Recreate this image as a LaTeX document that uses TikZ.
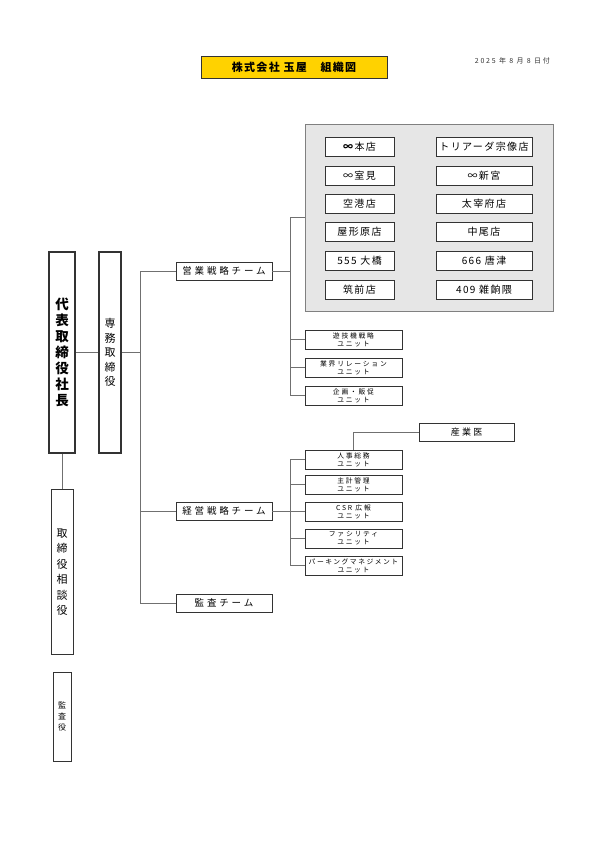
\documentclass[tikz,border=0pt]{standalone}
\usepackage{fontspec}
\setmainfont{Noto Sans CJK JP}
\usepackage{xcolor}
\usepackage{tikz}
\definecolor{titleyellow}{HTML}{FFD200}
\definecolor{panelgray}{HTML}{E6E6E6}
\definecolor{linegray}{HTML}{707070}
\definecolor{boxline}{HTML}{333333}

\tikzset{
  box/.style={draw=boxline, fill=white, rectangle, inner sep=0pt, align=center, line width=0.7pt},
  store/.style={box, minimum height=19pt, font=\fontsize{10}{11}\selectfont\addfontfeature{LetterSpace=14}},
  unit/.style={box, minimum width=97pt, minimum height=19pt, font=\fontsize{6.8}{8}\selectfont\addfontfeature{LetterSpace=26}},
  team/.style={box, minimum width=96pt, minimum height=18pt, font=\fontsize{9.5}{10}\selectfont\addfontfeature{LetterSpace=30}},
  exec/.style={box, line width=1.8pt},
  conn/.style={draw=linegray, line width=0.6pt}
}

\begin{document}
\begin{tikzpicture}[x=1pt, y=-1pt]
\useasboundingbox (0,0) rectangle (595,842);

% title
\node[box, fill=titleyellow, minimum width=186pt, minimum height=22pt, font=\fontsize{11}{12}\bfseries\addfontfeature{LetterSpace=12}] (title) at (294,67) {株式会社 玉屋　組織図};
\node[anchor=east, inner sep=0pt, font=\fontsize{7}{8}\selectfont\addfontfeature{LetterSpace=25}, text=boxline] (date) at (550,61) {2025 年 8 月 8 日付};

% officers
\node[exec, minimum width=26pt, minimum height=201pt, font=\fontsize{13.5}{16}\bfseries] (shacho) at (62,352.5) {代\\表\\取\\締\\役\\社\\長};
\node[exec, minimum width=22pt, minimum height=201pt, font=\fontsize{11}{14.5}\selectfont] (senmu) at (110,352.5) {専\\務\\取\\締\\役};
\node[box, minimum width=22pt, minimum height=165pt, font=\fontsize{11}{15.5}\selectfont] (sodan) at (62,572) {取\\締\\役\\相\\談\\役};
\node[box, minimum width=18pt, minimum height=89pt, font=\fontsize{8}{11}\selectfont] (kansayaku) at (62,716.5) {監\\査\\役};

% teams
\node[team] (eigyo) at (224,271) {営業戦略チーム};
\node[team] (keiei) at (224,511) {経営戦略チーム};
\node[team] (kansa) at (224,603) {監査チーム};

% stores
\node[draw=gray, fill=panelgray, minimum width=248pt, minimum height=187pt, inner sep=0pt, line width=0.7pt] (panel) at (429,217.5) {};
\node[store, minimum width=69pt] (s1) at (359.5,146.5) {\textbf{∞}本店};
\node[store, minimum width=96pt] (s2) at (484,146.5) {トリアーダ宗像店};
\node[store, minimum width=69pt] (s3) at (359.5,175.5) {∞室見};
\node[store, minimum width=96pt] (s4) at (484,175.5) {∞新宮};
\node[store, minimum width=69pt] (s5) at (359.5,203.5) {空港店};
\node[store, minimum width=96pt] (s6) at (484,203.5) {太宰府店};
\node[store, minimum width=69pt] (s7) at (359.5,231.5) {屋形原店};
\node[store, minimum width=96pt] (s8) at (484,231.5) {中尾店};
\node[store, minimum width=69pt] (s9) at (359.5,260.5) {555 大橋};
\node[store, minimum width=96pt] (s10) at (484,260.5) {666 唐津};
\node[store, minimum width=69pt] (s11) at (359.5,289.5) {筑前店};
\node[store, minimum width=96pt] (s12) at (484,289.5) {409 雑餉隈};

% units
\node[unit] (u1) at (353.5,339.5) {遊技機戦略\\ユニット};
\node[unit] (u2) at (353.5,367.5) {業界リレーション\\ユニット};
\node[unit] (u3) at (353.5,395.5) {企画・販促\\ユニット};
\node[unit] (u4) at (353.5,459.5) {人事総務\\ユニット};
\node[unit] (u5) at (353.5,484.5) {主計管理\\ユニット};
\node[unit] (u6) at (353.5,511.5) {CSR 広報\\ユニット};
\node[unit] (u7) at (353.5,538.5) {ファシリティ\\ユニット};
\node[unit, font=\fontsize{6.8}{8}\selectfont\addfontfeature{LetterSpace=22}] (u8) at (353.5,565.5) {パーキングマネジメント\\ユニット};
\node[box, minimum width=95pt, minimum height=18pt, font=\fontsize{9}{10}\selectfont\addfontfeature{LetterSpace=25}] (sangyoui) at (466.5,432) {産業医};

% connectors
\coordinate (jbus) at (140,352.5);
\coordinate (ebus) at (290,271);
\coordinate (kbus) at (290,511);
\draw[conn] (shacho.east) -- (senmu.west);
\draw[conn] (shacho.south) -- (sodan.north);
\draw[conn] (senmu.east) -- (jbus);
\draw[conn] (jbus |- eigyo.west) -- (jbus |- kansa.west);
\foreach \t in {eigyo,keiei,kansa}
  \draw[conn] (jbus |- \t.west) -- (\t.west);
\draw[conn] (eigyo.east) -- (ebus);
\draw[conn] (ebus |- panel.west) -- (ebus |- u3.west);
\foreach \t in {panel,u1,u2,u3}
  \draw[conn] (ebus |- \t.west) -- (\t.west);
\draw[conn] (keiei.east) -- (kbus);
\draw[conn] (kbus |- u4.west) -- (kbus |- u8.west);
\foreach \t in {u4,u5,u6,u7,u8}
  \draw[conn] (kbus |- \t.west) -- (\t.west);
\draw[conn] (u4.north) |- (sangyoui.west);

\end{tikzpicture}
\end{document}
